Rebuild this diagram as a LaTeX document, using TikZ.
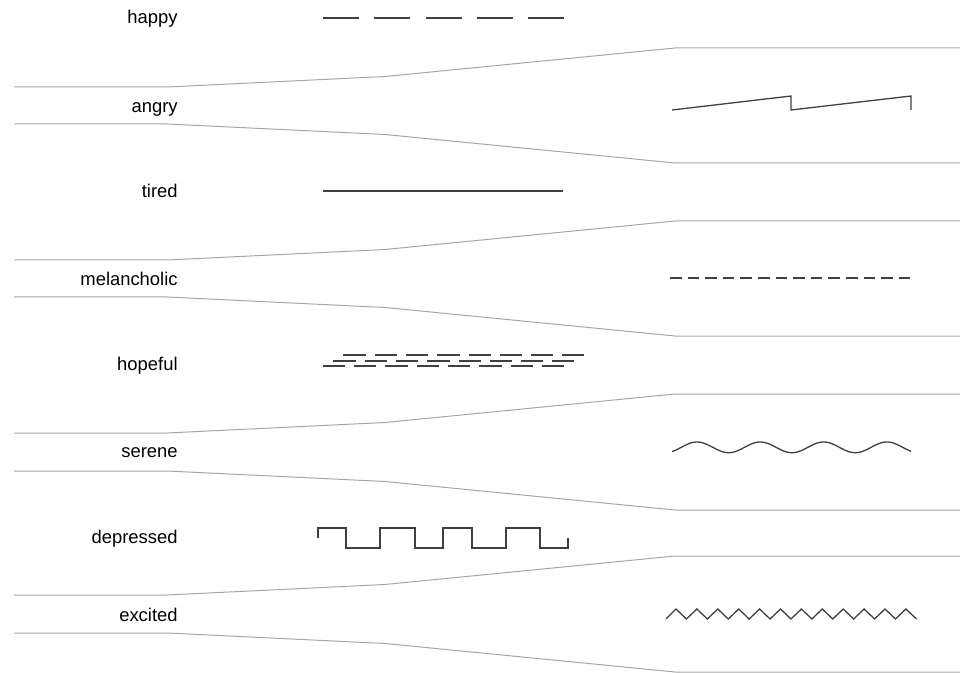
\documentclass[tikz,border=0pt]{standalone}
\usepackage{fontspec}
\setmainfont{Liberation Sans}

\begin{document}
\begin{tikzpicture}[x=0.5pt, y=-0.5pt,
      mood/.style={anchor=base east, inner sep=0pt, font=\fontsize{9.2}{11}\selectfont},
      band/.style={draw=black!35, line width=0.5pt},
      sample/.style={draw=black!75, line width=0.65pt},
      thick sample/.style={sample, line width=0.85pt}]
    \useasboundingbox (0,0) rectangle (960,674);
    % grey bands
    \foreach \u/\l in {87/124, 260/297, 433/471, 595/633} {
      \draw[band] (14,\u) -- (167,\u) -- (385,{\u-10.5}) -- (675,{\u-39}) -- (960,{\u-39});
      \draw[band] (14,\l) -- (167,\l) -- (385,{\l+10.5}) -- (675,{\l+39}) -- (960,{\l+39});
    }
    % labels
    \node[mood] (happy) at (178,23.5) {happy};
    \node[mood] (angry) at (178,113) {angry};
    \node[mood] (tired) at (178,197.5) {tired};
    \node[mood] (melancholic) at (178,285.5) {melancholic};
    \node[mood] (hopeful) at (178,370.5) {hopeful};
    \node[mood] (serene) at (178,457) {serene};
    \node[mood] (depressed) at (178,543.5) {depressed};
    \node[mood] (excited) at (178,621) {excited};
    % line samples
    \draw[thick sample, dash pattern=on 18pt off 7.65pt] (323,18.3) -- (564,18.3);
    \draw[sample] (672,110) -- (791,96) -- (791,110) -- (911,96) -- (911,110);
    \draw[sample] (323,191) -- (563,191);
    \draw[thick sample, dash pattern=on 5.8pt off 3pt] (670,278) -- (911,278);
    \foreach \x/\y in {343.3/355, 333.3/360.7, 322.7/365.7}
      \draw[thick sample, dash pattern=on 11.15pt off 4.5pt] (\x,\y) -- ({\x+241},\y);
    \draw[sample] plot[domain=-25:214, samples=120, smooth]
      ({697+\x}, {447.35-5.35*cos(5.6872*\x)});
    \draw[sample] (318,538) -- (318,528) -- (346,528) -- (346,548) -- (380,548) -- (380,528)
      -- (415,528) -- (415,548) -- (443,548) -- (443,528) -- (472,528) -- (472,548)
      -- (506,548) -- (506,528) -- (540,528) -- (540,548) -- (568,548) -- (568,538);
    \draw[sample] (666,619) \foreach \k in {0,...,10} {-- ({676+20.9*\k},609) -- ({686.45+20.9*\k},619)}
      -- (905.9,609) -- (916.5,619);
  \end{tikzpicture}
\end{document}
